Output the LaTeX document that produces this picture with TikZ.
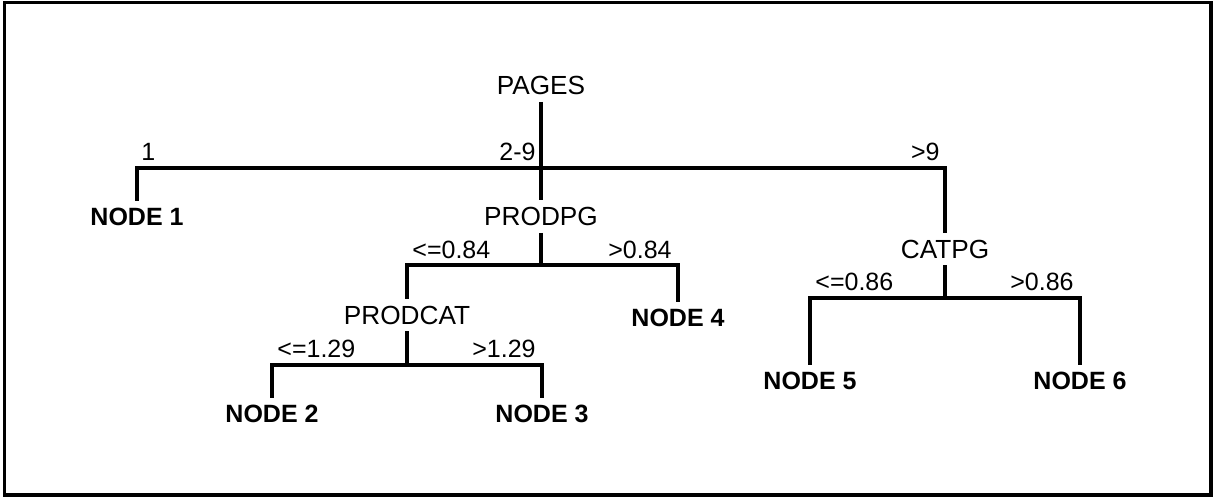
\documentclass[tikz,border=0pt]{standalone}
\usepackage{fontspec}
\setmainfont{Liberation Sans}
\begin{document}
\begin{tikzpicture}[x=0.5pt,y=-0.5pt,
  treeline/.style={line width=1.6pt, line join=miter},
  varnode/.style={font=\fontsize{13.1}{15}\selectfont, inner xsep=0pt, inner ysep=3.3pt, text height=9.4pt, text depth=0pt},
  leafnode/.style={font=\fontsize{12.5}{15}\selectfont\bfseries, inner xsep=0pt, inner ysep=3.5pt, text height=8.95pt, text depth=0pt},
  lbl/.style={font=\fontsize{12.5}{15}\selectfont, inner sep=0pt}]
\useasboundingbox (0,0) rectangle (1213,498);
\draw[line width=1.6pt] (4.5,2.5) rectangle (1211,495);

% nodes
\node[varnode] (pages)   at (541,85.5) {PAGES};
\node[varnode] (prodpg)  at (541,216.5) {PRODPG};
\node[varnode] (prodcat) at (407,315) {PRODCAT};
\node[varnode] (catpg)   at (945,249) {CATPG};
\node[leafnode] (n1) at (137,217) {NODE 1};
\node[leafnode] (n2) at (272,414) {NODE 2};
\node[leafnode] (n3) at (542,414) {NODE 3};
\node[leafnode] (n4) at (678,318) {NODE 4};
\node[leafnode] (n5) at (810,381) {NODE 5};
\node[leafnode] (n6) at (1080,381) {NODE 6};

% junctions
\coordinate (b1) at (541,168);
\coordinate (b2) at (541,265);
\coordinate (b3) at (407,365);
\coordinate (b4) at (945,298);

% connectors
\draw[treeline] (pages.south) -- (prodpg.north);
\draw[treeline] (n1.north) |- (b1) -| (catpg.north);
\draw[treeline] (prodpg.south) -- (b2);
\draw[treeline] (prodcat.north) |- (b2) -| (n4.north);
\draw[treeline] (prodcat.south) -- (b3);
\draw[treeline] (n2.north) |- (b3) -| (n3.north);
\draw[treeline] (catpg.south) -- (b4);
\draw[treeline] (n5.north) |- (b4) -| (n6.north);

% branch labels
\node[lbl, anchor=base west] (l1)  at (141,160) {1};
\node[lbl, anchor=base east] (l29) at (536,160) {2-9};
\node[lbl, anchor=base east] (lg9) at (940,160) {>9};
\node[lbl, anchor=base west] (la)  at (412,258) {<=0.84};
\node[lbl, anchor=base east] (lb)  at (672,258) {>0.84};
\node[lbl, anchor=base west] (lc)  at (277,357) {<=1.29};
\node[lbl, anchor=base east] (ld)  at (536,357) {>1.29};
\node[lbl, anchor=base west] (le)  at (815,290) {<=0.86};
\node[lbl, anchor=base east] (lf)  at (1074,290) {>0.86};
\end{tikzpicture}
\end{document}
